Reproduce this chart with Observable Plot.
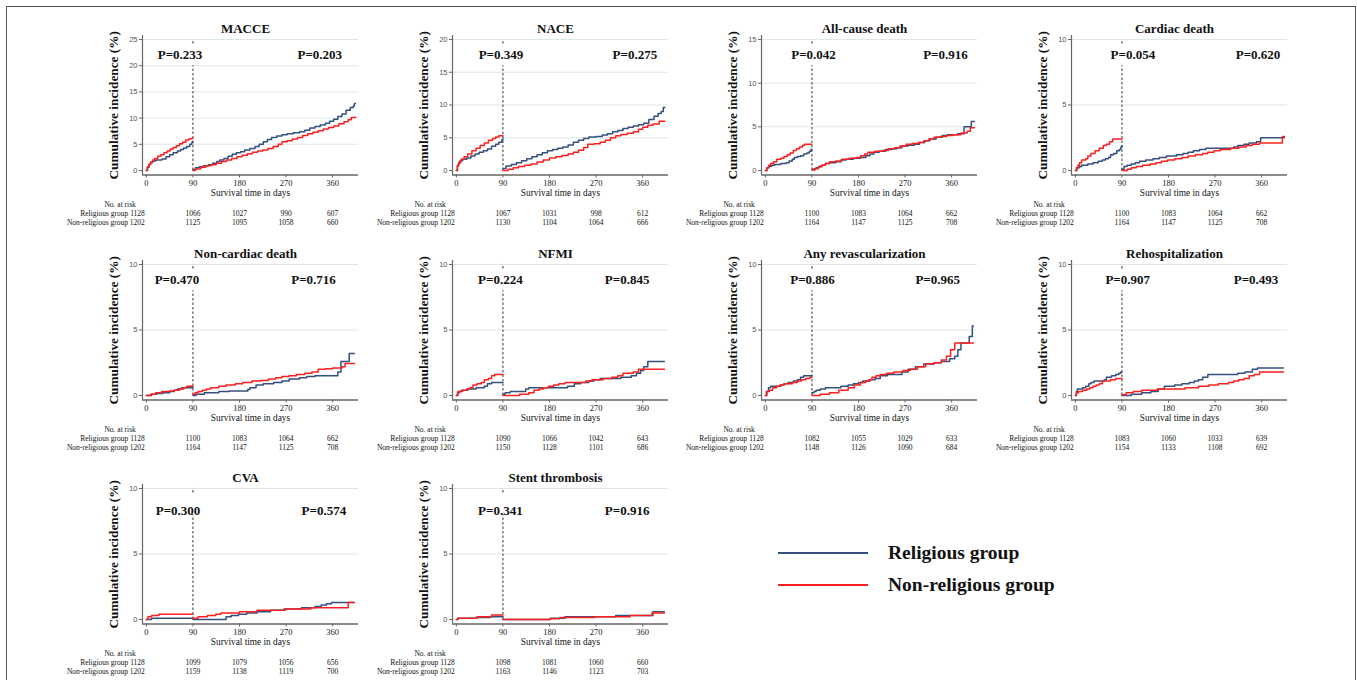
<!DOCTYPE html>
<html>
<head>
<meta charset="utf-8">
<script src="https://cdn.jsdelivr.net/npm/d3@7"></script>
<script src="https://cdn.jsdelivr.net/npm/@observablehq/plot@0.6"></script>
<style>
  html, body { margin: 0; padding: 0; background: #fff; }
  body { width: 1357px; height: 680px; overflow: hidden; position: relative; font-family: "Liberation Serif", "Times New Roman", serif; }
  #frame { position: absolute; left: 6px; top: 6px; width: 1350px; height: 720px; box-sizing: border-box; border: 1.5px solid #555; }
  .panel { position: absolute; }
  .panel svg { overflow: visible; }
</style>
</head>
<body>
<div id="frame"></div>
<script>
// ---------------- data ----------------
const groups = ["Religious group", "Non-religious group"];
const groupColors = ["#35507f", "#ff1f1f"];
const titles = ["MACCE", "NACE", "All-cause death", "Cardiac death", "Non-cardiac death", "NFMI",
  "Any revascularization", "Rehospitalization", "CVA", "Stent thrombosis"];
const yMax = [25, 20, 15, 10, 10, 10, 10, 10, 10, 10];
const pEarly = ["0.233", "0.349", "0.042", "0.054", "0.470", "0.224", "0.886", "0.907", "0.300", "0.341"];
const pLate = ["0.203", "0.275", "0.916", "0.620", "0.716", "0.845", "0.965", "0.493", "0.574", "0.916"];
const pEarlyStartDay = [22, 43, 50, 68, 16, 42, 48, 58, 18, 42];
const pLateStartDay = [292, 302, 305, 310, 280, 287, 290, 306, 300, 287];
const tickDays = [0, 90, 180, 270, 360];
const landmarkDay = 90;
const riskRel = [
  [1128, 1066, 1027, 990, 607], [1128, 1067, 1031, 998, 612], [1128, 1100, 1083, 1064, 662],
  [1128, 1100, 1083, 1064, 662], [1128, 1100, 1083, 1064, 662], [1128, 1090, 1066, 1042, 643],
  [1128, 1082, 1055, 1029, 633], [1128, 1083, 1060, 1033, 639], [1128, 1099, 1079, 1056, 656],
  [1128, 1098, 1081, 1060, 660]];
const riskNon = [
  [1202, 1125, 1095, 1058, 660], [1202, 1130, 1104, 1064, 666], [1202, 1164, 1147, 1125, 708],
  [1202, 1164, 1147, 1125, 708], [1202, 1164, 1147, 1125, 708], [1202, 1150, 1128, 1101, 686],
  [1202, 1148, 1126, 1090, 684], [1202, 1154, 1133, 1108, 692], [1202, 1159, 1138, 1119, 700],
  [1202, 1163, 1146, 1123, 703]];

// curves: [day, cumulative incidence %]; A = 0-90 days, B = landmark 90 days onward
const macceRelA = [[0,0],[2,0.6],[5,1.1],[8,1.5],[12,1.8],[18,2.0],[30,2.2],[38,2.6],[45,3.0],[52,3.4],[60,3.7],[66,4.0],[72,4.3],[78,4.6],[84,5.0],[88,5.4],[90,5.5]];
const macceNonA = [[0,0],[2,0.7],[5,1.2],[8,1.6],[12,2.0],[16,2.3],[22,2.7],[28,3.0],[34,3.4],[40,3.7],[46,4.1],[52,4.4],[58,4.7],[64,5.1],[70,5.4],[76,5.8],[82,6.0],[86,6.1],[90,6.1]];
const macceRelB = [[90,0.2],[95,0.5],[102,0.7],[110,0.9],[120,1.1],[128,1.4],[136,1.7],[142,2.0],[150,2.3],[158,2.7],[166,3.1],[174,3.4],[182,3.6],[190,3.9],[200,4.2],[210,4.6],[218,5.0],[226,5.5],[234,5.9],[242,6.3],[252,6.6],[262,6.8],[272,7.0],[284,7.2],[296,7.4],[306,7.7],[316,8.1],[326,8.4],[336,8.7],[346,9.0],[354,9.4],[362,9.8],[370,10.3],[378,10.8],[386,11.5],[394,12.0],[400,12.3],[402,12.8],[404,12.8]];
const macceNonB = [[90,0],[95,0.3],[105,0.6],[115,0.9],[125,1.1],[135,1.4],[145,1.7],[155,2.0],[165,2.3],[175,2.6],[185,2.9],[195,3.2],[205,3.5],[215,3.7],[225,3.9],[235,4.2],[245,4.6],[255,5.0],[262,5.5],[272,5.7],[282,6.0],[292,6.3],[302,6.7],[312,7.0],[322,7.3],[332,7.6],[342,7.9],[352,8.2],[362,8.5],[372,8.9],[382,9.3],[390,9.7],[396,10.1],[404,10.2]];

const naceRelA = [[0,0],[2,0.7],[4,1.1],[7,1.5],[12,1.7],[20,1.9],[28,2.2],[36,2.5],[44,2.8],[52,3.0],[60,3.3],[68,3.7],[76,4.0],[82,4.3],[88,4.7],[90,4.8]];
const naceNonA = [[0,0],[2,0.8],[5,1.3],[9,1.7],[15,2.1],[22,2.5],[30,3.0],[38,3.4],[46,3.8],[54,4.2],[62,4.6],[70,4.9],[76,5.1],[82,5.3],[90,5.3]];
const naceRelB = [[90,0.3],[96,0.7],[106,0.9],[116,1.2],[126,1.5],[136,1.8],[146,2.1],[156,2.4],[166,2.7],[176,3.0],[186,3.2],[196,3.4],[206,3.6],[216,3.9],[226,4.3],[236,4.6],[246,4.9],[256,5.1],[270,5.2],[282,5.4],[292,5.6],[302,5.9],[312,6.1],[322,6.4],[332,6.6],[342,6.8],[352,7.0],[362,7.2],[372,7.8],[382,8.3],[390,8.7],[396,9.0],[400,9.6],[403,9.6]];
const naceNonB = [[90,0],[100,0.2],[110,0.4],[120,0.6],[132,0.8],[144,1.0],[156,1.3],[168,1.6],[180,1.9],[192,2.1],[204,2.3],[216,2.5],[226,2.8],[236,3.1],[246,3.5],[254,4.0],[266,4.1],[278,4.3],[288,4.6],[298,5.0],[308,5.3],[318,5.5],[330,5.7],[342,5.9],[352,6.3],[360,6.6],[370,6.9],[380,7.1],[392,7.5],[403,7.5]];

const acdRelA = [[0,0],[3,0.3],[7,0.5],[12,0.6],[18,0.7],[30,0.8],[40,0.9],[46,1.1],[52,1.3],[56,1.5],[62,1.6],[68,1.7],[74,1.9],[80,2.0],[85,2.2],[88,2.4],[90,2.4]];
const acdNonA = [[0,0],[3,0.3],[6,0.6],[10,0.8],[16,1.0],[22,1.3],[30,1.4],[36,1.6],[42,1.8],[48,2.0],[54,2.3],[60,2.5],[66,2.7],[72,2.9],[76,3.0],[90,3.0]];
const acdRelB = [[90,0.1],[94,0.2],[98,0.3],[104,0.5],[110,0.6],[116,0.8],[124,0.9],[136,1.0],[146,1.2],[156,1.3],[170,1.4],[184,1.5],[194,1.7],[202,1.9],[210,2.1],[220,2.2],[232,2.4],[244,2.5],[254,2.6],[264,2.8],[276,2.9],[288,3.0],[298,3.2],[308,3.4],[318,3.6],[330,3.8],[342,4.0],[352,4.1],[372,4.2],[384,5.0],[396,5.0],[398,5.6],[404,5.6]];
const acdNonB = [[90,0.05],[96,0.2],[102,0.4],[108,0.6],[116,0.8],[124,1.0],[136,1.1],[148,1.3],[162,1.4],[176,1.5],[184,1.7],[192,1.9],[198,2.1],[212,2.2],[226,2.3],[238,2.5],[250,2.6],[260,2.8],[272,3.0],[284,3.1],[296,3.2],[306,3.4],[316,3.6],[326,3.8],[338,3.9],[350,4.0],[362,4.1],[378,4.3],[390,4.5],[396,4.9],[404,4.9]];

const cdRelA = [[0,0],[3,0.2],[8,0.3],[12,0.4],[24,0.5],[34,0.6],[44,0.7],[52,0.8],[58,0.9],[64,1.0],[68,1.2],[74,1.3],[80,1.5],[85,1.6],[88,1.8],[90,1.9]];
const cdNonA = [[0,0],[2,0.2],[5,0.4],[8,0.6],[12,0.8],[20,0.9],[24,1.1],[30,1.3],[38,1.5],[46,1.7],[54,1.9],[60,2.0],[66,2.2],[72,2.4],[90,2.4]];
const cdRelB = [[90,0.1],[94,0.3],[100,0.4],[108,0.5],[116,0.6],[124,0.7],[136,0.8],[150,0.9],[162,1.0],[176,1.1],[196,1.2],[208,1.3],[218,1.4],[228,1.5],[240,1.6],[252,1.7],[300,1.7],[306,1.8],[314,1.9],[326,2.0],[336,2.1],[350,2.2],[358,2.5],[404,2.5]];
const cdNonB = [[90,0],[100,0.1],[108,0.2],[118,0.3],[130,0.4],[144,0.5],[156,0.6],[166,0.7],[178,0.8],[192,0.9],[206,1.0],[218,1.1],[232,1.2],[246,1.3],[256,1.4],[268,1.5],[280,1.6],[300,1.7],[316,1.8],[330,1.9],[342,2.0],[356,2.1],[398,2.1],[400,2.6],[404,2.6]];

const ncdRelA = [[0,0],[10,0.1],[20,0.15],[32,0.2],[45,0.3],[54,0.4],[60,0.5],[68,0.6],[90,0.6]];
const ncdNonA = [[0,0],[8,0.1],[18,0.2],[30,0.3],[44,0.35],[54,0.4],[64,0.5],[72,0.6],[78,0.7],[90,0.7]];
const ncdRelB = [[90,0],[96,0.1],[112,0.2],[140,0.3],[160,0.35],[196,0.45],[200,0.6],[212,0.8],[226,0.9],[246,1.0],[262,1.1],[276,1.25],[296,1.35],[310,1.45],[326,1.5],[364,1.5],[370,1.8],[376,2.6],[388,2.6],[392,3.2],[402,3.2]];
const ncdNonB = [[90,0.1],[94,0.2],[100,0.3],[108,0.4],[116,0.5],[124,0.6],[140,0.7],[154,0.8],[172,0.9],[186,1.0],[204,1.1],[220,1.15],[236,1.25],[250,1.35],[262,1.45],[276,1.5],[290,1.6],[306,1.7],[320,1.8],[332,2.0],[346,2.05],[360,2.1],[378,2.2],[384,2.45],[402,2.45]];

const nfmiRelA = [[0,0],[2,0.2],[6,0.3],[10,0.4],[22,0.5],[38,0.6],[54,0.7],[60,0.9],[68,1.0],[90,1.0]];
const nfmiNonA = [[0,0],[3,0.3],[12,0.4],[20,0.5],[26,0.6],[32,0.8],[40,0.9],[48,1.0],[54,1.2],[62,1.3],[68,1.5],[74,1.6],[90,1.6]];
const nfmiRelB = [[90,0.1],[94,0.2],[104,0.3],[134,0.5],[140,0.6],[215,0.7],[228,0.9],[240,1.0],[256,1.1],[266,1.2],[278,1.3],[318,1.4],[338,1.5],[348,1.7],[356,1.9],[362,2.2],[370,2.6],[402,2.6]];
const nfmiNonB = [[90,0],[122,0.1],[140,0.2],[150,0.4],[160,0.5],[168,0.6],[178,0.7],[188,0.8],[198,0.9],[210,1.0],[240,1.0],[250,1.1],[262,1.2],[284,1.3],[300,1.4],[312,1.5],[322,1.7],[342,1.8],[352,2.0],[402,2.0]];

const revRelA = [[0,0],[2,0.3],[6,0.6],[10,0.7],[26,0.7],[30,0.8],[36,0.9],[44,1.0],[54,1.1],[62,1.2],[68,1.4],[74,1.5],[90,1.5]];
const revNonA = [[0,0],[3,0.3],[8,0.4],[14,0.6],[22,0.7],[28,0.8],[36,0.9],[52,1.0],[62,1.1],[70,1.2],[78,1.3],[86,1.4],[90,1.4]];
const revRelB = [[90,0.2],[94,0.3],[98,0.4],[106,0.5],[116,0.6],[146,0.7],[160,0.8],[170,0.9],[180,1.0],[188,1.1],[202,1.2],[212,1.3],[222,1.5],[236,1.6],[256,1.6],[264,1.8],[276,2.0],[290,2.2],[306,2.4],[326,2.5],[340,2.6],[356,2.8],[366,3.0],[372,3.5],[378,4.0],[390,4.0],[394,4.5],[400,5.3],[402,5.3]];
const revNonB = [[90,0],[106,0.1],[124,0.2],[142,0.4],[160,0.6],[172,0.8],[184,1.0],[194,1.1],[200,1.2],[206,1.4],[214,1.5],[222,1.6],[234,1.7],[248,1.8],[266,1.9],[280,2.0],[294,2.2],[310,2.4],[326,2.5],[340,2.7],[350,3.0],[358,3.5],[366,4.0],[402,4.0]];

const rehRelA = [[0,0],[2,0.3],[4,0.5],[14,0.6],[20,0.7],[26,0.9],[30,1.0],[36,1.1],[56,1.2],[60,1.4],[70,1.5],[78,1.6],[84,1.7],[88,1.8],[90,1.8]];
const rehNonA = [[0,0],[2,0.2],[6,0.3],[14,0.4],[22,0.5],[28,0.6],[34,0.7],[40,0.8],[46,0.9],[52,1.1],[68,1.2],[78,1.3],[90,1.3]];
const rehRelB = [[90,0],[108,0.1],[128,0.2],[146,0.3],[160,0.5],[172,0.7],[192,0.8],[206,0.9],[220,1.0],[230,1.1],[238,1.2],[246,1.4],[256,1.6],[304,1.6],[314,1.7],[328,1.8],[342,2.0],[352,2.1],[402,2.1]];
const rehNonB = [[90,0.05],[98,0.2],[112,0.3],[128,0.4],[158,0.5],[212,0.6],[238,0.7],[258,0.8],[276,0.9],[296,1.0],[306,1.1],[316,1.2],[326,1.3],[336,1.5],[346,1.6],[356,1.8],[402,1.8]];

const cvaRelA = [[0,0],[10,0.1],[90,0.1]];
const cvaNonA = [[0,0],[3,0.2],[10,0.3],[24,0.4],[90,0.4]];
const cvaRelB = [[90,0],[150,0],[154,0.2],[164,0.3],[178,0.4],[194,0.5],[214,0.6],[240,0.7],[266,0.8],[300,0.9],[326,1.0],[338,1.1],[348,1.2],[358,1.3],[402,1.3]];
const cvaNonB = [[90,0.1],[100,0.2],[118,0.3],[134,0.4],[144,0.5],[180,0.6],[214,0.7],[268,0.8],[310,0.8],[318,0.9],[388,0.9],[390,1.3],[402,1.3]];

const stRelA = [[0,0],[3,0.1],[40,0.15],[66,0.2],[90,0.2]];
const stNonA = [[0,0],[3,0.1],[40,0.2],[68,0.35],[90,0.35]];
const stRelB = [[90,0],[182,0.1],[210,0.2],[308,0.3],[376,0.3],[380,0.6],[402,0.6]];
const stNonB = [[90,0],[180,0.05],[200,0.15],[268,0.2],[336,0.3],[378,0.5],[402,0.5]];

const panelCurves = [
  [macceRelA, macceRelB, macceNonA, macceNonB],
  [naceRelA, naceRelB, naceNonA, naceNonB],
  [acdRelA, acdRelB, acdNonA, acdNonB],
  [cdRelA, cdRelB, cdNonA, cdNonB],
  [ncdRelA, ncdRelB, ncdNonA, ncdNonB],
  [nfmiRelA, nfmiRelB, nfmiNonA, nfmiNonB],
  [revRelA, revRelB, revNonA, revNonB],
  [rehRelA, rehRelB, rehNonA, rehNonB],
  [cvaRelA, cvaRelB, cvaNonA, cvaNonB],
  [stRelA, stRelB, stNonA, stNonB]
];

// ---------------- layout ----------------
const COLW = 309.7, ROWH = 224.5, LEFT0 = 60, TOP0 = 15;
const W = 310, H = 215, ML = 82, MR = 12, MT = 20, MB = 55.5;
const xDomain = [-7.5, 410];
const serif = "'Liberation Serif', 'Times New Roman', serif";
const sans = "'Liberation Sans', Arial, sans-serif";

titles.forEach((title, i) => {
  const m = yMax[i];
  const row = Math.floor(i / 4), col = i % 4;
  const [ra, rb, na, nb] = panelCurves[i];
  const rows = [];
  const add = (arr, g, seg) => arr.forEach(([d, v]) => rows.push({day: d, pct: v, group: groups[g], key: g + seg}));
  add(ra, 0, "a"); add(rb, 0, "b"); add(na, 1, "a"); add(nb, 1, "b");
  const yDomain = [-0.0344 * m, 1.0305 * m];
  const yTicks = d3.range(0, m + 0.001, 5);
  const pY = (row < 2 ? 0.885 : 0.83) * m;
  const bold = {fontWeight: "bold", fontFamily: serif};
  const mid = {lineAnchor: "middle"};

  const chart = Plot.plot({
    width: W, height: H,
    marginLeft: ML, marginRight: MR, marginTop: MT, marginBottom: MB,
    style: {background: "transparent", color: "#111", fontFamily: serif, overflow: "visible"},
    x: {domain: xDomain},
    y: {domain: yDomain},
    color: {domain: groups, range: groupColors},
    marks: [
      Plot.ruleY(yTicks.filter(t => t > 0), {stroke: "#dce8e8", strokeWidth: 1}),
      Plot.ruleX([landmarkDay], {y1: 0, y2: 0.8 * m, stroke: "#333", strokeWidth: 1, strokeDasharray: "2.5,2"}),
      Plot.ruleX([landmarkDay], {y1: 0.965 * m, y2: 1.0 * m, stroke: "#333", strokeWidth: 1, strokeDasharray: "2.5,2"}),
      Plot.line(rows, {x: "day", y: "pct", z: "key", stroke: "group", curve: "step-after", strokeWidth: 1.5}),
      Plot.ruleX([xDomain[0]], {stroke: "#666", strokeWidth: 1.2}),
      Plot.ruleY([yDomain[0]], {stroke: "#666", strokeWidth: 1.5}),
      Plot.axisY(yTicks, {tickSize: 3, tickPadding: 2, fontSize: 7.5, fill: "#555", stroke: "#666", fontFamily: sans, label: null}),
      Plot.axisX(tickDays, {tickSize: 3, tickPadding: 2, fontSize: 8.5, stroke: "#666", fill: "#222", fontFamily: serif, label: null}),
      Plot.text([title], {frameAnchor: "top", dy: -7, dx: -5, fontSize: 13, ...mid, ...bold}),
      Plot.text(["P=" + pEarly[i]], {x: [pEarlyStartDay[i]], y: [pY], textAnchor: "start", fontSize: 13, ...bold}),
      Plot.text(["P=" + pLate[i]], {x: [pLateStartDay[i]], y: [pY], textAnchor: "start", fontSize: 13, ...bold}),
      Plot.text(["Cumulative incidence (%)"], {frameAnchor: "left", rotate: -90, dx: -29, textAnchor: "middle", fontSize: 13.3, ...mid, ...bold}),
      Plot.text(["Survival time in days"], {frameAnchor: "bottom", dy: 18.5, fontSize: 9.3, fontFamily: serif, ...mid}),
      Plot.text(["No. at risk"], {x: [0], frameAnchor: "bottom", dy: 29.5, dx: -10.5, textAnchor: "end", fontSize: 7.5, ...mid}),
      Plot.text([`${groups[0]} ${riskRel[i][0]}`], {x: [0], frameAnchor: "bottom", dy: 38.5, dx: -1.5, textAnchor: "end", fontSize: 7.5, ...mid}),
      Plot.text([`${groups[1]} ${riskNon[i][0]}`], {x: [0], frameAnchor: "bottom", dy: 47.5, dx: -1.5, textAnchor: "end", fontSize: 7.5, ...mid}),
      Plot.text(tickDays.slice(1), {x: d => d, text: (d, j) => String(riskRel[i][j + 1]), frameAnchor: "bottom", dy: 38.5, fontSize: 7.5, ...mid}),
      Plot.text(tickDays.slice(1), {x: d => d, text: (d, j) => String(riskNon[i][j + 1]), frameAnchor: "bottom", dy: 47.5, fontSize: 7.5, ...mid})
    ]
  });
  const div = document.createElement("div");
  div.className = "panel";
  div.style.left = (LEFT0 + col * COLW) + "px";
  div.style.top = (TOP0 + row * ROWH) + "px";
  div.appendChild(chart);
  document.body.appendChild(div);
});

// ---------------- legend ----------------
groups.forEach((g, j) => {
  const item = document.createElement("div");
  item.style.cssText = `position:absolute;left:778px;top:${553 + j * 32 - 12}px;height:24px;display:flex;align-items:center;`;
  const line = document.createElement("span");
  line.style.cssText = `display:inline-block;width:90px;height:2.5px;background:${groupColors[j]};`;
  const label = document.createElement("span");
  label.style.cssText = `margin-left:20px;font-weight:bold;font-size:19.5px;font-family:${serif};color:#111;white-space:nowrap;`;
  label.textContent = g;
  item.appendChild(line);
  item.appendChild(label);
  document.body.appendChild(item);
});
</script>
</body>
</html>
